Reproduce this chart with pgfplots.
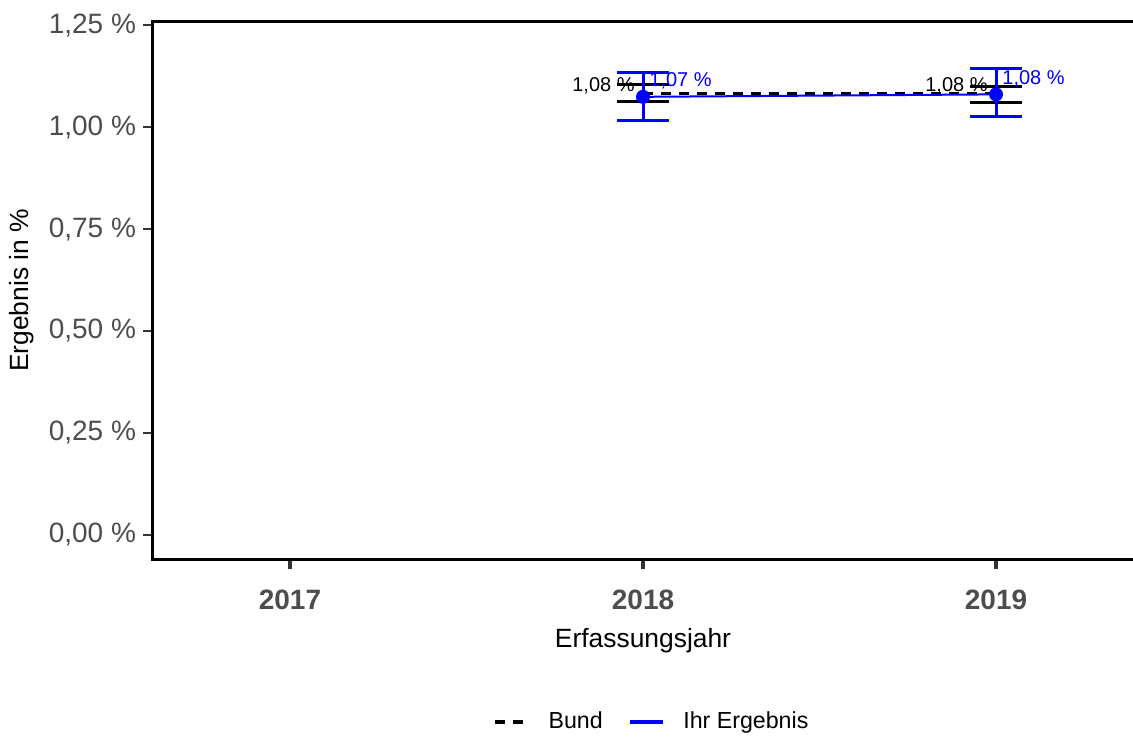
\documentclass[border=0pt]{standalone}
\usepackage{fontspec}
\setmainfont{Liberation Sans}
\usepackage{pgfplots}
\pgfplotsset{compat=1.18}
\definecolor{tickgray}{HTML}{4D4D4D}
\definecolor{tickdark}{HTML}{333333}
\begin{document}
\begin{tikzpicture}
\path[use as bounding box] (-76.5pt,-89.5pt) rectangle (490pt,279.5pt);
\begin{axis}[
  at={(0,0)}, anchor=south west,
  scale only axis, width=490pt, height=268.5pt,
  xmin=2016.612, xmax=2019.388, ymin=-0.0588, ymax=1.2574,
  axis line style={draw=none},
  clip=false,
  xtick pos=bottom, ytick pos=left,
  xtick={2017,2018,2019}, xticklabels={2017,2018,2019},
  ytick={0,0.25,0.5,0.75,1,1.25},
  yticklabels={{0,00 \%},{0,25 \%},{0,50 \%},{0,75 \%},{1,00 \%},{1,25 \%}},
  tick align=outside, major tick length=5pt,
  x tick style={line width=2.2pt, draw=tickdark},
  y tick style={line width=0.8pt, draw=tickdark},
  xticklabel style={font=\fontsize{14}{16}\selectfont\bfseries, text=tickgray, yshift=-7pt},
  yticklabel style={font=\fontsize{14}{16}\selectfont, text=tickgray},
  /pgf/number format/assume math mode=true,
  xlabel={Erfassungsjahr}, ylabel={Ergebnis in \%},
  label style={font=\fontsize{13.2}{15}\selectfont},
  xlabel style={at={(axis description cs:0.5,-0.1527)}, anchor=center},
  ylabel style={at={(axis description cs:-0.1337,0.5)}, anchor=center},
  legend columns=2,
  legend style={draw=none, fill=none, at={(0.5102,-0.3035)}, anchor=center,
    font=\fontsize{11.6}{13}\selectfont,
    /tikz/every even column/.append style={column sep=11pt}},
  legend cell align=left,
  legend image code/.code={\draw[#1, line width=1.6pt] (0pt,0pt) -- (16.5pt,0pt); \path (24pt,0pt);},
]
% Bund error bars
\addplot[forget plot, draw=none, mark=none,
  error bars/.cd, y dir=both, y explicit, error mark=|,
  error bar style={draw=black, solid, line width=1.5pt},
  error mark options={draw=black, solid, line width=1.5pt, mark size=13pt}]
  coordinates {(2018,1.083) += (0,0.020) -= (0,0.021)
               (2019,1.083) += (0,0.016) -= (0,0.023)};
% Bund line
\addplot[black, line width=1.4pt, dash pattern=on 5pt off 4pt, mark=none]
  coordinates {(2018,1.083) (2019,1.083)};
\addlegendentry{Bund}
% Ihr Ergebnis error bars
\addplot[forget plot, draw=none, mark=none,
  error bars/.cd, y dir=both, y explicit, error mark=|,
  error bar style={draw=blue, solid, line width=1.5pt},
  error mark options={draw=blue, solid, line width=1.5pt, mark size=13pt}]
  coordinates {(2018,1.074) += (0,0.060) -= (0,0.057)
               (2019,1.080) += (0,0.064) -= (0,0.053)};
% Ihr Ergebnis line
\addplot[blue, line width=1pt, mark=*, mark size=3pt, mark options={solid, fill=blue, draw=blue}]
  coordinates {(2018,1.074) (2019,1.080)};
\addlegendentry{Ihr Ergebnis}
% labels
\addplot[forget plot, draw=none, mark=none, nodes near coords, point meta=explicit symbolic,
  nodes near coords style={anchor=base east, inner sep=0pt, xshift=-4pt, text=black, font=\fontsize{10}{12}\selectfont}]
  coordinates {(2018,1.087) [1,08 \%] (2019,1.087) [1,08 \%]};
\addplot[forget plot, draw=none, mark=none, nodes near coords, point meta=explicit symbolic,
  nodes near coords style={anchor=base west, inner sep=0pt, xshift=3pt, text=blue, font=\fontsize{10}{12}\selectfont}]
  coordinates {(2018,1.099) [1,07 \%] (2019,1.105) [1,08 \%]};
\draw[line width=1.5pt, line join=miter, black]
  (rel axis cs:1,1) -- (rel axis cs:0,1) -- (rel axis cs:0,0) -- (rel axis cs:1,0);
\end{axis}
\end{tikzpicture}
\end{document}
